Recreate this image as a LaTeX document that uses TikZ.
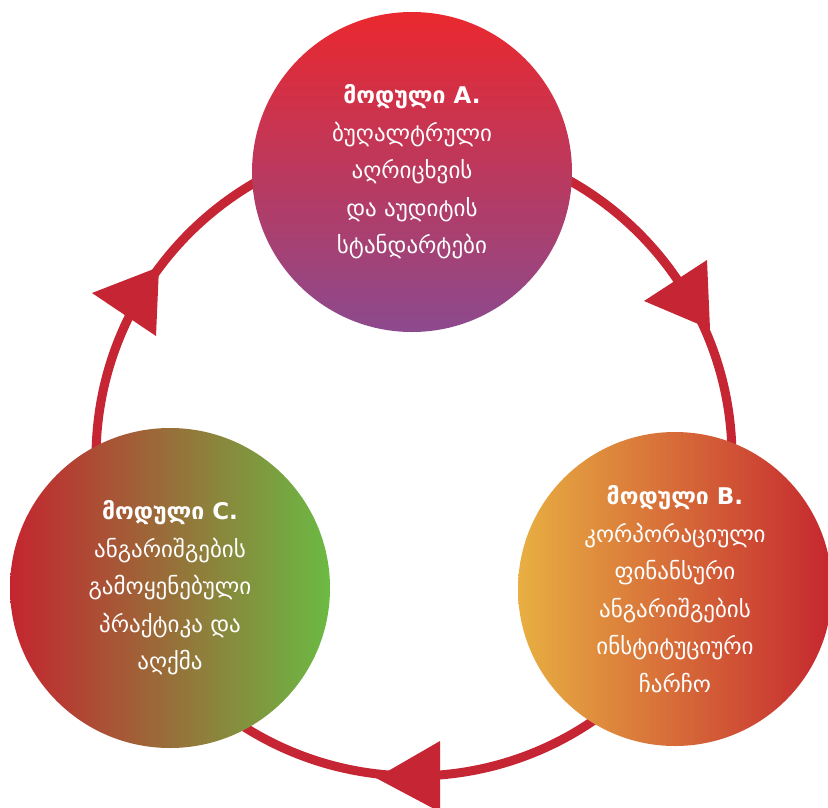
\documentclass[tikz,border=0pt]{standalone}
\usepackage{fontspec}
\setmainfont{DejaVu Sans}
\usetikzlibrary{positioning}

\definecolor{ringred}{HTML}{C62633}
\definecolor{aTop}{HTML}{EA282E}
\definecolor{aBot}{HTML}{8C4A8E}
\definecolor{bLeft}{HTML}{E8AF42}
\definecolor{bRight}{HTML}{C5272F}
\definecolor{cLeft}{HTML}{C4252F}
\definecolor{cRight}{HTML}{6BBA43}

\begin{document}
\begin{tikzpicture}[
    x=1pt, y=-1pt,
    every node/.style={align=center},
    module/.style={circle, inner sep=0pt, text=white, font=\fontsize{23}{37.5}\selectfont},
    ring/.style={draw=ringred, line width=9pt},
    tipfill/.style={fill=ringred}
]
\useasboundingbox (0,0) rectangle (828,807);

% cycle ring
\coordinate (ctr) at (414,458);
\draw[ring] (ctr) circle[radius=318pt];

% arrow tips on the ring
\fill[tipfill] (92,293) -- (159,267) -- (156,336) -- cycle;
\fill[tipfill] (644,301) -- (707,260) -- (710,329) -- cycle;
\fill[tipfill] (376,778) -- (440,741) -- (440,812) -- cycle;

% modules
\node[module, minimum size=320pt, top color=aTop, bottom color=aBot] (modA) at (412,172)
    {\textbf{მოდული A.}\\ბუღალტრული\\აღრიცხვის\\და აუდიტის\\სტანდარტები};
\node[module, minimum size=314pt, left color=bLeft, right color=bRight] (modB) at (675,589)
    {\textbf{მოდული B.}\\კორპორაციული\\ფინანსური\\ანგარიშგების\\ინსტიტუციური\\ჩარჩო};
\node[module, minimum size=320pt, left color=cLeft, right color=cRight] (modC) at (170,588)
    {\textbf{მოდული C.}\\ანგარიშგების\\გამოყენებული\\პრაქტიკა და\\აღქმა};

\end{tikzpicture}
\end{document}
